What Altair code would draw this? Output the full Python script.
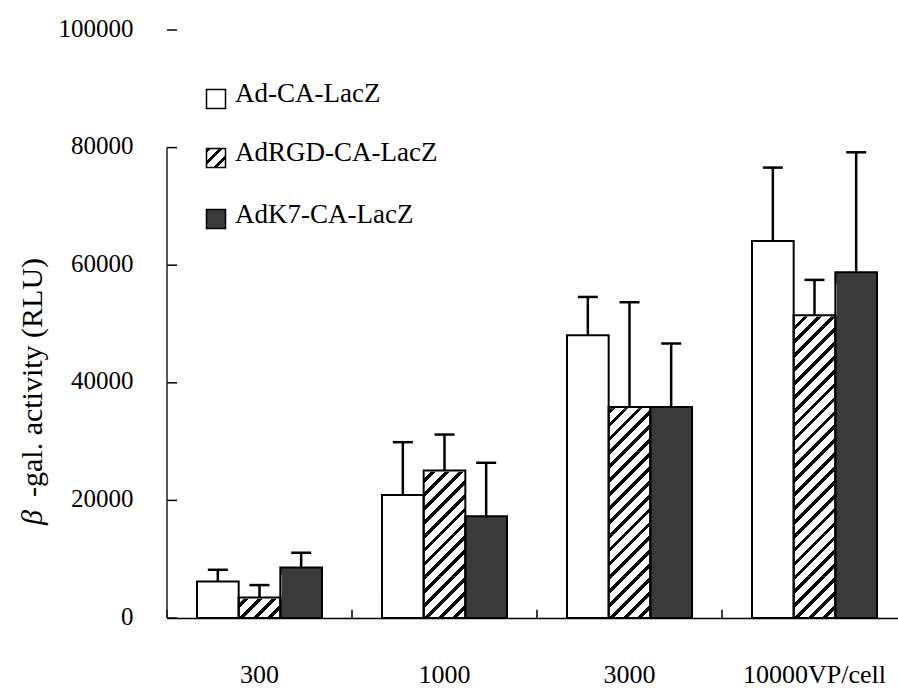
import math
import altair as alt
import pandas as pd

# ---------------- data ----------------
groups = ["300", "1000", "3000", "10000VP/cell"]
series = ["Ad-CA-LacZ", "AdRGD-CA-LacZ", "AdK7-CA-LacZ"]
ad_ca = [6200, 20900, 48100, 64100]
ad_rgd = [3500, 25100, 35900, 51500]
ad_k7 = [8600, 17300, 35900, 58800]
ad_ca_sd = [2000, 9000, 6500, 12500]
ad_rgd_sd = [2100, 6100, 17800, 6000]
ad_k7_sd = [2500, 9100, 10800, 20400]
y_ticks = [0, 20000, 40000, 60000, 80000, 100000]
y_axis_top = [80000]
title_greek = ["β"]
title_rest = ["-gal. activity (RLU)"]

# ---------------- layout / style ----------------
FONT = "Times New Roman, Liberation Serif, DejaVu Serif, serif"
W_PLOT, H_PLOT = 731, 588
X_RANGE = 740
PAD_L, PAD_T = 167, 30
OFF_PAD = 0.72
Y_MAX = 100000
DARK = "#3a3a3a"

step_px = X_RANGE / len(groups) / (len(series) + 2 * OFF_PAD)
seg = step_px / (H_PLOT / Y_MAX)  # data height of a square hatch tile


def stripes(n, frac=0.34):
    stops = []
    for i in range(n):
        a = i / n
        b = a + frac / n
        stops += [alt.GradientStop(offset=a, color="black"),
                  alt.GradientStop(offset=b, color="black"),
                  alt.GradientStop(offset=b, color="white"),
                  alt.GradientStop(offset=(i + 1) / n, color="white")]
    return alt.LinearGradient(gradient="linear", x1=0, y1=0, x2=1, y2=1, stops=stops)


hatch_fill = stripes(6)
legend_hatch = stripes(3)

values = [ad_ca, ad_rgd, ad_k7]
sds = [ad_ca_sd, ad_rgd_sd, ad_k7_sd]
rows = []
for s, vals, errs in zip(series, values, sds):
    for g, v, e in zip(groups, vals, errs):
        rows.append({"group": g, "series": s, "value": v, "sd": e})
df = pd.DataFrame(rows)

seg_rows, cover_rows = [], []
for g, v in zip(groups, ad_rgd):
    n = math.ceil(v / seg)
    for k in range(n):
        seg_rows.append({"group": g, "series": series[1], "y0": k * seg, "y1": (k + 1) * seg})
    cover_rows.append({"group": g, "series": series[1], "y0": v, "y1": n * seg})
seg_df = pd.DataFrame(seg_rows)
cover_df = pd.DataFrame(cover_rows)

x_scale = alt.Scale(domain=groups, range=[0, X_RANGE], paddingInner=0, paddingOuter=0)
x_axis = alt.Axis(title=None, labelFont=FONT, labelFontSize=26, labelColor="black",
                  labelAngle=0, ticks=False, tickSize=0, labelPadding=64,
                  labelBaseline="alphabetic", domainColor="black", domainWidth=1.5,
                  grid=False)
y_scale = alt.Scale(domain=[0, Y_MAX], nice=False, zero=True)
y_axis = alt.Axis(title=None, values=y_ticks, labelFont=FONT, labelFontSize=25,
                  labelColor="black", ticks=False, tickSize=0, domain=False,
                  labelPadding=34, labelBaseline="middle", labelOffset=-2,
                  grid=False, format="d")


def X(**kw):
    return alt.X("group:N", scale=x_scale, axis=x_axis, **kw)


XO = alt.XOffset("series:N", scale=alt.Scale(domain=series, paddingInner=0, paddingOuter=OFF_PAD))


def Y(field):
    return alt.Y(field, scale=y_scale, axis=y_axis)


solids = alt.Chart(df).mark_bar().encode(
    x=X(), xOffset=XO, y=Y("value:Q"),
    fill=alt.Fill("series:N", scale=alt.Scale(domain=series, range=["#ffffff", "#ffffff", DARK]),
                  legend=None))

hatch = alt.Chart(seg_df).mark_bar(fill=hatch_fill).encode(
    x=X(), xOffset=XO, y=Y("y0:Q"), y2="y1:Q")

cover = alt.Chart(cover_df).mark_bar(fill="white", stroke="white", strokeWidth=2.5).encode(
    x=X(), xOffset=XO, y=Y("y0:Q"), y2="y1:Q")

outline = alt.Chart(df).mark_bar(fillOpacity=0, stroke="black", strokeWidth=2).encode(
    x=X(), xOffset=XO, y=Y("value:Q"))

err_rule = alt.Chart(df).transform_calculate(upper="datum.value + datum.sd").mark_rule(
    color="black", strokeWidth=2.5).encode(x=X(), xOffset=XO, y=Y("value:Q"), y2="upper:Q")

err_cap = alt.Chart(df).transform_calculate(upper="datum.value + datum.sd").mark_tick(
    color="black", thickness=2.5, size=20, opacity=1).encode(x=X(), xOffset=XO, y=Y("upper:Q"))

x_ticks = alt.Chart(pd.DataFrame({"group": groups})).mark_rule(
    color="black", strokeWidth=1.5).encode(
    x=X(bandPosition=0), y=alt.datum(0), y2=alt.datum(1400))

y_tick_marks = alt.Chart(pd.DataFrame({"tick": y_ticks})).mark_rule(
    color="black", strokeWidth=1.5).encode(
    y=Y("tick:Q"), x=alt.value(0), x2=alt.value(10))

y_line = alt.Chart(pd.DataFrame({"lo": [0], "hi": y_axis_top})).mark_rule(
    color="#222222", strokeWidth=1.5).encode(y=Y("lo:Q"), y2="hi:Q", x=alt.value(0))

legend_fills = ["white", legend_hatch, DARK]
sq_y = [99 - PAD_T, 158 - PAD_T, 219 - PAD_T]
txt_y = [94 - PAD_T, 153 - PAD_T, 215 - PAD_T]
legend_layers = []
for i, name in enumerate(series):
    ldf = pd.DataFrame({"series": [name]})
    legend_layers.append(alt.Chart(ldf).mark_square(
        size=361, fill=legend_fills[i], stroke="black", strokeWidth=1.5, opacity=1
    ).encode(x=alt.value(216 - PAD_L), y=alt.value(sq_y[i])))
    legend_layers.append(alt.Chart(ldf).mark_text(
        align="left", baseline="middle", font=FONT, fontSize=27, color="black"
    ).encode(x=alt.value(235 - PAD_L), y=alt.value(txt_y[i]), text="series:N"))

t_greek = alt.Chart(pd.DataFrame({"t": title_greek})).mark_text(
    angle=270, align="left", baseline="middle", font=FONT, fontStyle="italic",
    fontSize=30, color="black").encode(x=alt.value(33 - PAD_L), y=alt.value(525 - PAD_T), text="t:N")
t_rest = alt.Chart(pd.DataFrame({"t": title_rest})).mark_text(
    angle=270, align="left", baseline="middle", font=FONT,
    fontSize=30, color="black").encode(x=alt.value(33 - PAD_L), y=alt.value(497 - PAD_T), text="t:N")

chart = alt.layer(
    solids, hatch, cover, outline, err_rule, err_cap, x_ticks, y_tick_marks, y_line,
    *legend_layers, t_greek, t_rest
).properties(
    width=W_PLOT, height=H_PLOT,
    padding={"left": PAD_L, "top": PAD_T, "right": 0, "bottom": 70},
    autosize=alt.AutoSizeParams(type="none"),
    background="white",
).configure_view(strokeWidth=0)

chart.save("out.html", embed_options={"renderer": "svg", "actions": False})
